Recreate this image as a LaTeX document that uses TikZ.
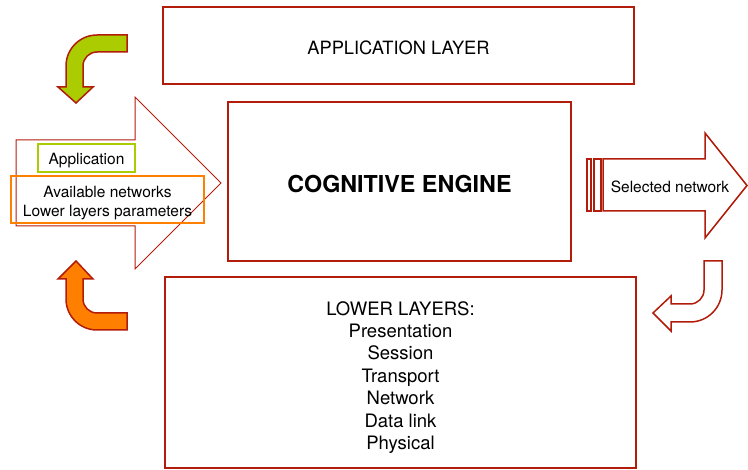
\documentclass[tikz,border=0pt]{standalone}
\usepackage{fontspec}
\setmainfont{TeX Gyre Heros}
\usepackage{tikz}
\definecolor{layerred}{RGB}{178,28,10}
\definecolor{appgreen}{RGB}{170,204,0}
\definecolor{netorange}{RGB}{255,128,0}

\begin{document}
\begin{tikzpicture}[x=1pt,y=-1pt,
  layerbox/.style={draw=layerred,line width=2.4pt,inner sep=0pt},
  tagbox/.style={line width=1.5pt,inner sep=0pt},
  smalltext/.style={align=center,font=\fontsize{15.5}{19}\selectfont},
  bendarrow/.style={draw=layerred,line width=1.5pt,line join=miter}]
\useasboundingbox (0,0) rectangle (748,470);
% layers
\node[layerbox,minimum width=471pt,minimum height=77pt] (applayer) at (398.5,45.5) {};
\node[layerbox,minimum width=343pt,minimum height=159pt] (engine) at (399.5,181.5) {};
\node[layerbox,minimum width=471pt,minimum height=191pt] (lower) at (400.5,372.5) {};
\node[font=\fontsize{18.3}{22}\selectfont] (applayertext) at ([yshift=-2.5pt]applayer.center) {APPLICATION LAYER};
\node[font=\fontsize{23.3}{28}\selectfont\bfseries] (enginetext) at ([yshift=-2.5pt]engine.center) {COGNITIVE ENGINE};
\node[align=center,font=\fontsize{18.5}{22.4}\selectfont] (lowertext) at ([yshift=-5pt]lower.center) {LOWER LAYERS:\\Presentation\\Session\\Transport\\Network\\Data link\\Physical};
% input arrow
\draw[layerred,line width=1pt] (16,140) -- (135,140) -- (135,97) -- (221,183) -- (135,269) -- (135,226) -- (16,226) -- cycle;
\node[tagbox,draw=appgreen,minimum width=97pt,minimum height=28pt] (app) at (86.5,158) {};
\node[tagbox,draw=netorange,minimum width=193pt,minimum height=47pt] (nets) at (107.5,199.5) {};
\node[smalltext] (apptext) at ([yshift=-3pt]app.center) {Application};
\node[smalltext] (netstext) at ([yshift=-4pt]nets.center) {Available networks\\Lower layers parameters};
% output arrow
\draw[layerred,line width=1.5pt] (603,159) -- (705,159) -- (705,133) -- (747,185.5) -- (705,238) -- (705,211) -- (603,211) -- cycle;
\draw[layerred,line width=1.2pt] (587,159) rectangle (591,211);
\draw[layerred,line width=1.2pt] (594,159) rectangle (601,211);
\node[smalltext] (selnet) at (670,186.5) {Selected network};
% bent arrows
\draw[bendarrow,fill=appgreen] (127,35) -- (97,35) arc[start angle=270,end angle=180,radius=31] -- (66,87) -- (58,87) -- (76,103) -- (93,87) -- (83,87) -- (83,66) arc[start angle=180,end angle=270,radius=14] -- (127,52) -- cycle;
\draw[bendarrow,fill=netorange] (127,330) -- (97,330) arc[start angle=90,end angle=180,radius=31] -- (66,279) -- (58,279) -- (76,261) -- (93,279) -- (83,279) -- (83,299) arc[start angle=180,end angle=90,radius=14] -- (127,313) -- cycle;
\draw[bendarrow,fill=white] (722,261) -- (722,290) arc[start angle=0,end angle=90,radius=32] -- (671,322) -- (671,331) -- (653,313) -- (671,296) -- (671,304) -- (690,304) arc[start angle=90,end angle=0,radius=14] -- (704,261) -- cycle;
\end{tikzpicture}
\end{document}
